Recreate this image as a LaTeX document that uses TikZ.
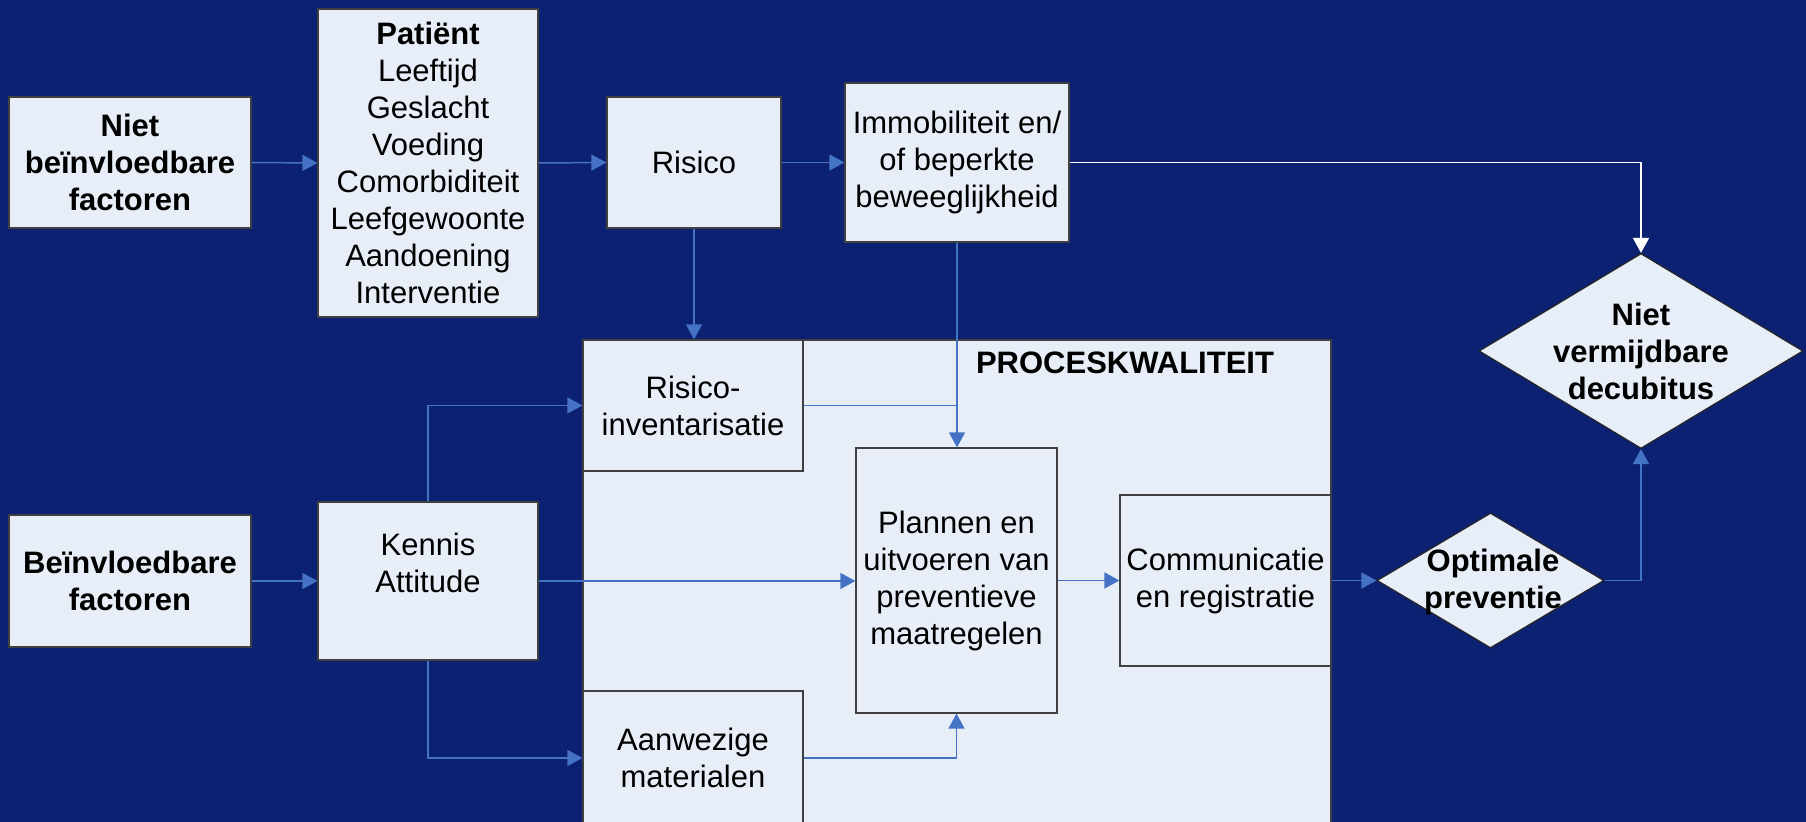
\documentclass[tikz,border=0pt]{standalone}
\usepackage{fontspec}
\setmainfont{Liberation Sans}
\usetikzlibrary{arrows.meta,shapes.geometric}
\definecolor{navy}{RGB}{12,33,113}
\definecolor{boxfill}{RGB}{232,238,248}
\definecolor{arrblue}{RGB}{68,114,196}
\tikzset{
  box/.style={draw=black!75, line width=0.6pt, fill=boxfill, align=center, inner sep=0pt,
    font=\fontsize{15.5}{18.5}\selectfont},
  dia/.style={diamond, draw=black!85, line width=0.6pt, fill=boxfill, inner sep=0pt},
  lbl/.style={align=center, inner sep=0pt, font=\fontsize{15.5}{18.5}\selectfont\bfseries},
  arr/.style={draw=arrblue, line width=0.75pt, -{Triangle[length=7.5pt,width=8pt]}},
  plain/.style={draw=arrblue, line width=0.75pt},
  warr/.style={draw=white, line width=0.75pt, -{Triangle[length=7.5pt,width=8pt]}},
}
\begin{document}
\begin{tikzpicture}[x=0.5pt,y=-0.5pt]
\fill[navy] (0,0) rectangle (1806,822);
\useasboundingbox (0,0) rectangle (1806,822);

% big process box
\node[box, minimum width=374pt, minimum height=250pt] (proc) at (957,590) {};
\node[lbl] (proctitle) at (1125,363) {PROCESKWALITEIT};

% top row
\node[box, minimum width=121pt, minimum height=65.5pt, font=\fontsize{15.5}{18.5}\selectfont\bfseries] (niet) at (130,162.5) {Niet\\beïnvloedbare\\factoren};
\node[box, minimum width=110pt, minimum height=154pt] (patient) at (428,163) {\textbf{Patiënt}\\Leeftijd\\Geslacht\\Voeding\\Comorbiditeit\\Leefgewoonte\\Aandoening\\Interventie};
\node[box, minimum width=87pt, minimum height=65.5pt] (risico) at (694,162.5) {Risico};
\node[box, minimum width=112pt, minimum height=79.5pt] (immob) at (957,162.5) {Immobiliteit en/\\of beperkte\\beweeglijkheid};

% diamond niet vermijdbare
\node[dia, minimum width=162pt, minimum height=97.5pt] (nvd) at (1641,351) {};
\node[lbl] (nvdtext) at (1641,351) {Niet\\vermijdbare\\decubitus};

% left lower
\node[box, minimum width=121pt, minimum height=66pt, font=\fontsize{15.5}{18.5}\selectfont\bfseries] (beinv) at (130,581) {Beïnvloedbare\\factoren};
\node[box, minimum width=110pt, minimum height=79pt] (kennis) at (428,581) {Kennis\\Attitude\\\mbox{}};

% inside process
\node[box, minimum width=110pt, minimum height=65.5pt] (rinv) at (693,405.5) {Risico-\\inventarisatie};
\node[box, minimum width=110pt, minimum height=67pt] (aanw) at (693,758) {Aanwezige\\materialen};
\node[box, minimum width=100.5pt, minimum height=132.5pt] (plannen) at (956.5,580.5) {Plannen en\\uitvoeren van\\preventieve\\maatregelen};
\node[box, minimum width=105.5pt, minimum height=85.5pt] (comm) at (1225.5,580.5) {Communicatie\\en registratie};

% optimale preventie
\node[dia, minimum width=113.5pt, minimum height=67.5pt] (opt) at (1490.5,580.5) {};
\node[lbl] (opttext) at (1493,582) {Optimale\\preventie};

% connectors
\draw[arr] (niet.east) -- (patient.west);
\draw[arr] (patient.east) -- (risico.west);
\draw[arr] (risico.east) -- (immob.west);
\draw[warr] (immob.east) -| (nvd.north);
\draw[arr] (risico.south) -- (risico.south |- rinv.north);
\draw[arr] (immob.south) -- (immob.south |- plannen.north);
\draw[plain] (rinv.east) -- (rinv.east -| immob.south);
\draw[arr] (beinv.east) -- (kennis.west);
\draw[arr] (kennis.north) |- (rinv.west);
\draw[arr] (kennis.south) |- (aanw.west);
\draw[arr] (kennis.east) -- (kennis.east -| plannen.west);
\draw[arr] (aanw.east) -| (plannen.south);
\draw[arr] (plannen.east) -- (comm.west);
\draw[arr] (comm.east) -- (opt.west);
\draw[arr] (opt.east) -| (nvd.south);
\end{tikzpicture}
\end{document}
